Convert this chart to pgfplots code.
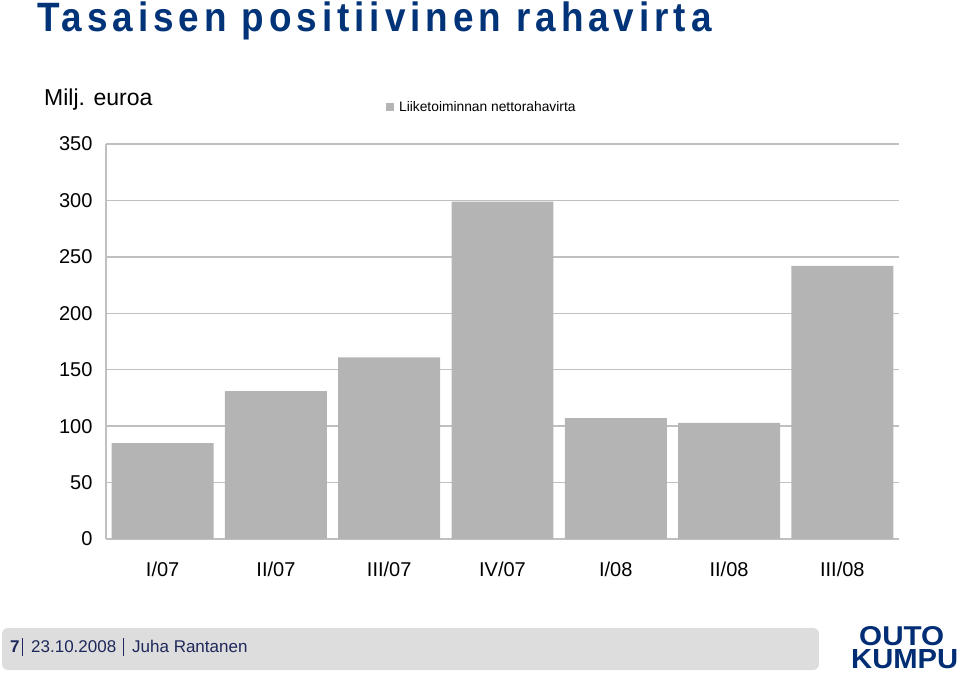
\documentclass[border=0pt]{standalone}
\usepackage{fontspec}
\setmainfont{Liberation Sans}
\newfontfamily\titlefont[LetterSpace=12,FakeStretch=0.9]{Liberation Sans}
\usepackage{pgfplots}
\pgfplotsset{compat=1.18}

\definecolor{titleblue}{RGB}{0,51,120}
\definecolor{bargray}{RGB}{180,180,180}
\definecolor{gridgray}{RGB}{192,192,192}
\definecolor{footgray}{RGB}{221,221,221}
\definecolor{foottext}{RGB}{30,40,90}
\definecolor{logoblue}{RGB}{0,45,115}

\begin{document}
\begin{tikzpicture}[x=1pt,y=1pt]
  \useasboundingbox (0,0) rectangle (960,674);

  % title
  \node[anchor=base west, inner sep=0, text=titleblue] at (37,642)
    {\titlefont\bfseries\fontsize{41}{45}\selectfont Tasaisen positiivinen rahavirta};

  % unit
  \node[anchor=base west, inner sep=0] at (44,568)
    {\fontsize{23}{27}\selectfont Milj. euroa};

  \begin{axis}[
      at={(106pt,135pt)}, anchor=south west,
      scale only axis,
      width=793pt, height=395pt,
      ybar, bar width=0.9,
      xmin=-0.5, xmax=6.5,
      ymin=0, ymax=350,
      ytick={0,50,...,350},
      xtick={0,...,6},
      xticklabels={I/07,II/07,III/07,IV/07,I/08,II/08,III/08},
      axis lines*=left,
      axis line style={gridgray, line width=2pt},
      major tick length=0pt,
      ymajorgrids=true,
      grid style={gridgray, line width=1.3pt},
      /pgf/number format/assume math mode=true,
      tick label style={font=\fontsize{20}{24}\selectfont},
      xticklabel style={yshift=-19pt},
      yticklabel style={xshift=-10pt},
      legend style={at={(axis description cs:0.353,1.094)}, anchor=west,
        draw=none, fill=none, inner sep=0pt,
        font=\fontsize{13.8}{16}\selectfont},
      legend image code/.code={\fill[bargray] (0pt,-4pt) rectangle (8pt,4pt);},
    ]
    \addplot[fill=bargray, draw=none] coordinates {
        (0,85) (1,131) (2,161) (3,299) (4,107) (5,103) (6,242)
      };
    \legend{\hspace{3pt}Liiketoiminnan nettorahavirta}
  \end{axis}

  % footer
  \fill[footgray, rounded corners=6pt] (2,4) rectangle (819,46);
  \begin{scope}[every node/.style={anchor=base west, inner sep=0, text=foottext,
        font=\fontsize{17}{20}\selectfont}]
    \node at (10,21) {\bfseries 7};
    \node at (31,21) {23.10.2008};
    \node at (132,21) {Juha Rantanen};
  \end{scope}
  \draw[foottext, line width=0.9pt] (22,18) -- (22,36);
  \draw[foottext, line width=0.9pt] (123,18) -- (123,36);

  % logo
  \node[anchor=south west, inner sep=0, text=logoblue] at (859,28)
    {\resizebox{85pt}{19pt}{\bfseries OUTO}};
  \node[anchor=south west, inner sep=0, text=logoblue] at (851,5)
    {\resizebox{107pt}{19pt}{\bfseries KUMPU}};
\end{tikzpicture}
\end{document}
